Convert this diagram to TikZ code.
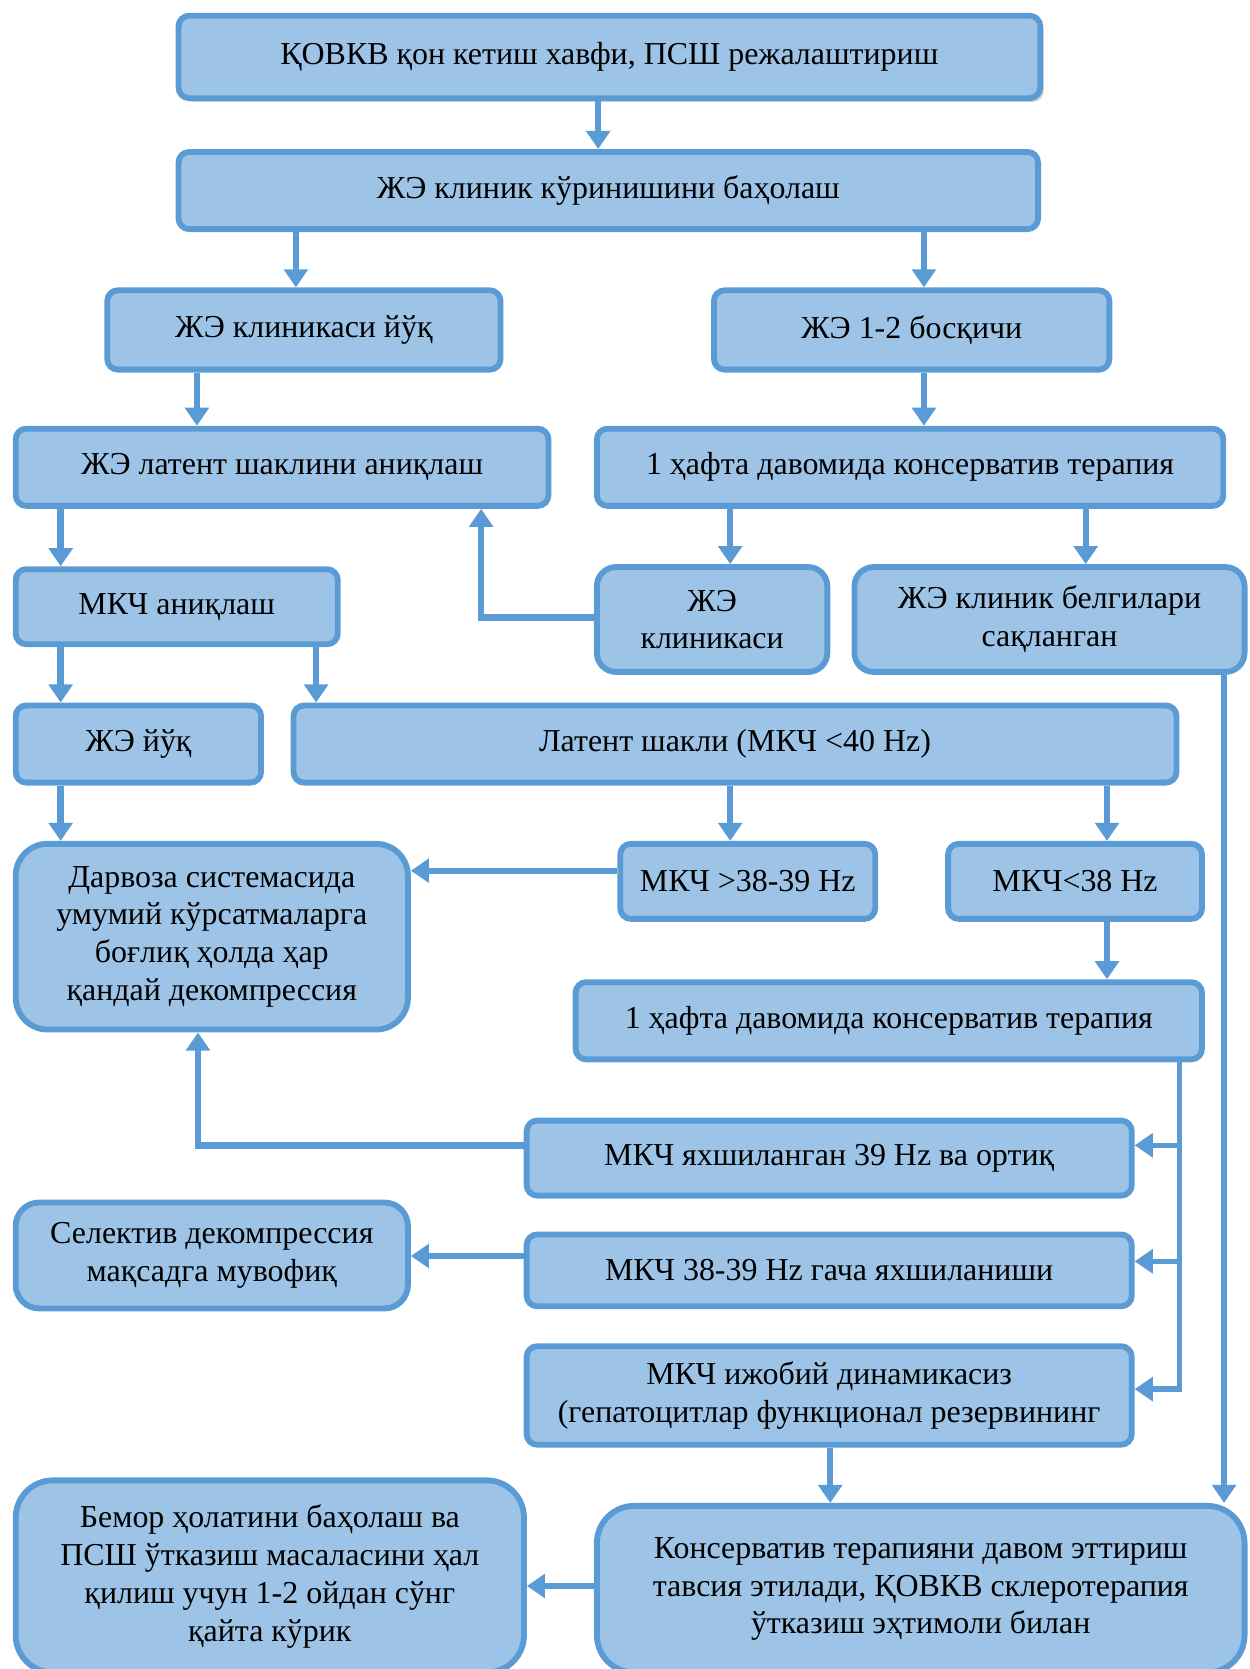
\documentclass[tikz,border=0pt]{standalone}
\usepackage{fontspec}
\setmainfont{Liberation Serif}
\usetikzlibrary{arrows.meta,shadows}
\definecolor{bd}{HTML}{5B9BD5}
\definecolor{fl}{HTML}{9DC3E6}
\begin{document}
\begin{tikzpicture}[x=1pt,y=-1pt,
  box/.style={draw=bd, fill=fl, line width=5.5pt, rounded corners=10pt, align=center,
    inner sep=2pt, font=\fontsize{30}{35.5}\selectfont, text=black},
  bx/.style n args={2}{box, minimum width=#1pt-5.5pt, minimum height=#2pt-5.5pt},
  arr/.style={draw=bd, line width=6pt, -{Triangle[width=22pt,length=17pt]}},
  ln/.style={draw=bd, line width=5pt},
  arrt/.style={draw=bd, line width=5pt, -{Triangle[width=22pt,length=17pt]}}]
\useasboundingbox (0,0) rectangle (1174,1568);
% boxes
\node[bx={815}{83}, drop shadow={shadow xshift=3.5pt, shadow yshift=-3.5pt, fill=gray!60}] (B1) at (572.5,53.5) {ҚОВКВ қон кетиш хавфи, ПСШ режалаштириш};
\node[bx={813}{78}] (B2) at (571.5,179) {ЖЭ клиник кўринишини баҳолаш};
\node[bx={375}{80}] (B3) at (285.5,310) {ЖЭ клиникаси йўқ};
\node[bx={377}{80}] (B4) at (856.5,310) {ЖЭ 1-2 босқичи};
\node[bx={506}{78}] (B5) at (265,439) {ЖЭ латент шаклини аниқлаш};
\node[bx={594}{78}] (B6) at (855,439) {1 ҳафта давомида консерватив терапия};
\node[bx={308}{76}] (B7) at (166,570) {МКЧ аниқлаш};
\node[bx={222}{104}, rounded corners=18pt] (B8) at (669,582) {ЖЭ\\клиникаси};
\node[bx={372}{104}, rounded corners=18pt] (B9) at (986,582) {ЖЭ клиник белгилари\\сақланган};
\node[bx={236}{78}] (B10) at (130,699) {ЖЭ йўқ};
\node[bx={835}{78}] (B11) at (690.5,699) {Латент шакли (МКЧ <40 Hz)};
\node[bx={374}{180}, rounded corners=30pt] (B12) at (199,880) {Дарвоза системасида\\умумий кўрсатмаларга\\боғлиқ ҳолда ҳар\\қандай декомпрессия};
\node[bx={245}{76}] (B13) at (702.5,828) {МКЧ >38-39 Hz};
\node[bx={244}{76}] (B14) at (1010,828) {МКЧ<38 Hz};
\node[bx={594}{78}] (B15) at (835,959) {1 ҳафта давомида консерватив терапия};
\node[bx={574}{76}] (B16) at (779,1088) {МКЧ яхшиланган 39 Hz ва ортиқ};
\node[bx={374}{105}, rounded corners=22pt] (B17) at (199,1179.5) {Селектив декомпрессия\\мақсадга мувофиқ};
\node[bx={574}{73}] (B18) at (779,1193.5) {МКЧ 38-39 Hz гача яхшиланиши};
\node[bx={574}{98}] (B19) at (779,1311) {МКЧ ижобий динамикасиз\\(гепатоцитлар функционал резервининг};
\node[bx={483}{186}, rounded corners=35pt] (B20) at (253.5,1481) {Бемор ҳолатини баҳолаш ва\\ПСШ ўтказиш масаласини ҳал\\қилиш учун 1-2 ойдан сўнг\\қайта кўрик};
\node[bx={614}{162}, rounded corners=35pt] (B21) at (865,1493) {Консерватив терапияни давом эттириш\\тавсия этилади, ҚОВКВ склеротерапия\\ўтказиш эҳтимоли билан};
% connectors
\draw[arr] (562,0 |- B1.south) -- (562,0 |- B2.north);
\draw[arr] (278,0 |- B2.south) -- (278,0 |- B3.north);
\draw[arr] (868,0 |- B2.south) -- (868,0 |- B4.north);
\draw[arr] (185,0 |- B3.south) -- (185,0 |- B5.north);
\draw[arr] (868,0 |- B4.south) -- (868,0 |- B6.north);
\draw[arr] (57,0 |- B5.south) -- (57,0 |- B7.north);
\draw[arr] (686,0 |- B6.south) -- (686,0 |- B8.north);
\draw[arr] (1020,0 |- B6.south) -- (1020,0 |- B9.north);
\draw[arr] (B8.west |- 0,580) -| (452,0 |- B5.south);
\draw[arr] (57,0 |- B7.south) -- (57,0 |- B10.north);
\draw[arr] (297,0 |- B7.south) -- (297,0 |- B11.north);
\draw[arr] (57,0 |- B10.south) -- (57,0 |- B12.north);
\draw[arr] (686,0 |- B11.south) -- (686,0 |- B13.north);
\draw[arr] (1040,0 |- B11.south) -- (1040,0 |- B14.north);
\draw[arr] (B13.west |- 0,818) -- (B12.east |- 0,818);
\draw[arr] (1040,0 |- B14.south) -- (1040,0 |- B15.north);
\coordinate (J1) at (1108,1076);
\coordinate (J2) at (1108,1185);
\coordinate (J3) at (1108,1305);
\draw[ln] (1108,0 |- B15.south) -- ([yshift=2.5pt]J3);
\draw[arrt] (J1) -- (B16.east |- J1);
\draw[arrt] (J2) -- (B18.east |- J2);
\draw[arrt] ([xshift=2.5pt]J3) -- (B19.east |- J3);
\draw[arr] (B16.west |- 0,1076) -| (186,0 |- B12.south);
\draw[arr] (B18.west |- 0,1180) -- (B17.east |- 0,1180);
\draw[arr] (780,0 |- B19.south) -- (780,0 |- B21.north);
\draw[arrt] (1150,0 |- B9.south) -- (1150,0 |- B21.north);
\draw[arr] (B21.west |- 0,1490) -- (B20.east |- 0,1490);
\end{tikzpicture}
\end{document}
